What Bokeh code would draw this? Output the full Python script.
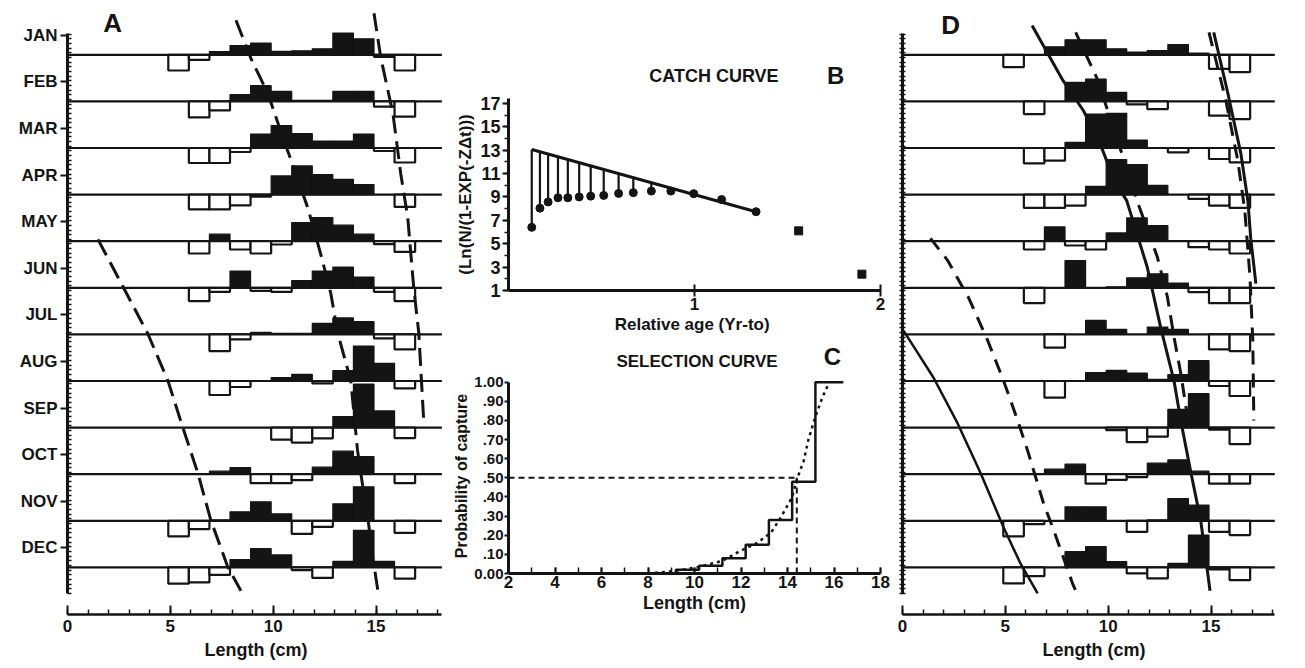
import numpy as np
from bokeh.plotting import figure
from bokeh.layouts import row, column
from bokeh.models import FixedTicker, Range1d, Label
from bokeh.embed import file_html
from bokeh.resources import INLINE

FONT = "Liberation Sans"
INK = "#141414"

# ---------------- data ----------------
MONTHS = ["JAN", "FEB", "MAR", "APR", "MAY", "JUN", "JUL", "AUG", "SEP", "OCT", "NOV", "DEC"]
LENGTH_MID = [5.4, 6.4, 7.4, 8.4, 9.4, 10.4, 11.4, 12.4, 13.4, 14.4, 15.4, 16.4]

# restructured frequencies (positive = peak, negative = trough), panel A
A_SCORES = [
    [-15.7, -5.0, 3.3, 9.3, 11.7, 3.5, 4.0, 6.0, 21.7, 16.0, -2.0, -15.7],
    [0.0, -16.0, -9.0, 6.7, 15.7, 10.0, 1.0, 1.0, 10.0, 10.0, -5.3, -15.3],
    [0.0, -15.0, -15.0, -4.0, 14.0, 22.5, 14.3, 7.0, 7.0, 14.0, -3.0, -14.5],
    [0.0, -14.7, -14.7, -10.7, -2.0, 18.7, 28.7, 20.0, 15.3, 10.0, 0.0, -12.3],
    [0.0, -12.3, 7.0, -8.3, -12.3, -3.3, 18.7, 23.7, 16.0, 7.0, -3.0, -10.7],
    [0.0, -13.3, -4.0, 16.7, -3.0, -4.0, 7.3, 16.7, 20.7, 10.7, -4.0, -13.3],
    [0.0, 0.0, -16.7, -5.0, 2.0, 1.0, 1.0, 11.0, 16.5, 12.7, -4.0, -15.0],
    [0.0, 0.0, -14.0, -6.0, 0.0, 3.3, 6.7, -2.3, 10.3, 35.0, 17.7, -7.3],
    [0.0, 0.0, 0.0, 0.0, 0.0, -12.0, -15.0, -10.7, 11.0, 43.5, 16.7, -10.5],
    [0.0, 0.0, 3.0, 6.5, -9.0, -9.0, -6.0, 7.0, 23.0, 17.5, 0.0, -9.0],
    [-15.5, -8.3, 1.0, 9.0, 19.0, 7.0, -13.0, -6.0, 17.0, 34.0, 0.0, -12.0],
    [-16.3, -15.0, -7.5, 7.8, 18.7, 12.5, -2.7, -10.5, 6.0, 37.0, 6.0, -11.3],
]

# panel D
D_SCORES = [
    [-12.3, 0.0, 8.0, 15.0, 15.0, 6.0, 2.7, 4.3, 10.3, 1.7, -14.0, -17.3],
    [0.0, -12.7, 0.0, 19.0, 22.3, 9.0, -3.0, -7.7, 0.0, 0.0, -14.3, -17.7],
    [0.0, -15.3, -12.7, 5.7, 34.0, 34.7, 8.0, 0.0, -4.3, 0.0, -11.0, -14.3],
    [0.0, -13.3, -13.3, -11.0, 8.3, 35.0, 30.0, 9.3, 0.0, -4.3, -11.0, -13.3],
    [0.0, -8.3, 14.3, -4.3, -8.3, 8.3, 23.3, 15.7, 0.0, -6.0, -8.3, -12.3],
    [0.0, -15.3, 0.0, 27.3, 0.0, 1.0, 10.0, 14.0, 4.7, -4.3, -15.3, -15.3],
    [0.0, 0.0, -13.3, 0.0, 14.0, 5.0, 0.0, 7.3, 5.0, 0.0, -15.0, -16.7],
    [0.0, 0.0, -16.7, 0.0, 8.5, 10.7, 8.0, 1.7, 6.5, 20.3, -5.0, -15.0],
    [0.0, 0.0, 0.0, 0.0, 0.0, -2.5, -14.5, -9.0, 18.3, 34.0, -2.0, -16.5],
    [0.0, 0.0, 5.0, 10.0, -9.5, -5.7, -3.0, 11.0, 14.3, 3.0, -9.5, -9.5],
    [-15.5, -3.3, 0.0, 14.0, 14.0, 0.0, -11.0, 1.0, 22.3, 15.7, -11.0, -14.3],
    [-16.0, -8.7, 0.0, 15.7, 20.7, 5.7, -6.0, -11.0, 4.0, 32.3, -2.0, -12.7],
]

# growth curves: length (cm) against time in months from the JAN baseline
A_CURVE1_LEN = [8.19, 8.92, 9.74, 10.52, 11.0, 11.68, 12.3, 12.8, 13.14, 13.77, 14.1, 14.36, 14.6, 14.84, 15.09]
A_CURVE1_T = [-0.74, 0.08, 0.83, 1.84, 2.42, 3.28, 4.26, 5.12, 5.98, 6.99, 8.49, 9.28, 9.93, 10.79, 11.5]
A_CURVE2_LEN = [14.9, 15.23, 15.82, 16.2, 16.54, 16.83, 17.08, 17.18, 17.33]
A_CURVE2_T = [-0.89, 0.06, 1.26, 2.55, 3.49, 4.99, 5.98, 6.78, 7.95]
A_CURVE3_LEN = [1.48, 3.9, 4.88, 5.6, 6.34, 6.97, 7.8, 8.43]
A_CURVE3_T = [3.96, 5.98, 6.99, 7.99, 8.98, 9.99, 11.0, 11.5]

D_SOLID1_LEN = [6.3, 7.8, 8.8, 9.6, 10.3, 10.9, 11.9, 12.55, 13.2, 13.55, 14.0, 14.5, 14.95]
D_SOLID1_T = [-0.63, 0.55, 1.2, 1.9, 2.7, 3.13, 4.56, 5.85, 7.0, 7.9, 8.92, 10.0, 11.5]
D_DASH1_LEN = [8.42, 9.47, 10.5, 11.5, 12.39, 12.88, 13.2, 13.53, 13.9]
D_DASH1_T = [-0.48, 0.52, 1.9, 3.25, 4.34, 5.2, 6.06, 6.84, 7.9]
D_SOLID2_LEN = [15.13, 15.82, 16.45, 16.79, 16.93, 17.18]
D_SOLID2_T = [-0.48, 0.83, 2.12, 3.13, 3.94, 4.91]
D_DASH2_LEN = [14.9, 15.72, 16.3, 16.64, 16.89, 17.03, 17.08]
D_DASH2_T = [-0.48, 0.98, 2.27, 3.34, 4.74, 6.13, 7.85]
D_SOLID3_LEN = [0.05, 1.51, 2.68, 3.8, 4.91, 5.74, 6.57]
D_SOLID3_T = [5.92, 6.93, 7.91, 8.98, 10.14, 10.92, 11.56]
D_DASH3_LEN = [1.36, 2.19, 3.21, 4.14, 4.91, 5.6, 6.08, 6.86, 7.35, 8.27, 8.52]
D_DASH3_T = [3.94, 4.41, 5.21, 6.13, 6.99, 7.85, 8.49, 9.63, 10.2, 11.35, 11.6]

# catch curve (panel B)
CATCH_AGE = [0.125, 0.169, 0.213, 0.266, 0.319, 0.380, 0.442, 0.512, 0.592, 0.671, 0.768, 0.873, 0.996, 1.146, 1.331]
CATCH_LNN = [6.4, 8.04, 8.57, 8.93, 8.93, 9.0, 9.07, 9.13, 9.3, 9.37, 9.5, 9.5, 9.28, 8.78, 7.74]
CATCH_TOP = [13.06, 12.86, 12.67, 12.43, 12.2, 11.93, 11.66, 11.35, 11.0, 10.65, 10.2, 9.8, 9.3, 8.6, 7.74]
CATCH_LINE_AGE = [0.125, 1.331]
CATCH_LINE_VAL = [13.06, 7.74]
CATCH_EXTRA_AGE = [1.56, 1.90]
CATCH_EXTRA_LNN = [6.1, 2.4]

# selection curve (panel C)
SEL_EDGE = [2.0, 9.2, 10.2, 11.2, 12.2, 13.2, 14.2, 15.2, 16.4]
SEL_PROB = [0.0, 0.02, 0.04, 0.08, 0.15, 0.28, 0.48, 1.0, 1.0]
LOGIT_LEN = [8.0, 9.2, 10.2, 11.2, 12.0, 12.7, 13.3, 13.7, 14.2, 14.4, 14.7, 14.9, 15.2, 15.5, 15.8]
LOGIT_PROB = [0.0, 0.014, 0.035, 0.066, 0.12, 0.16, 0.215, 0.29, 0.40, 0.49, 0.59, 0.70, 0.82, 0.92, 1.0]
L50 = 14.4
P50 = 0.5
PROB_TICKS = [0.0, 0.1, 0.2, 0.3, 0.4, 0.5, 0.6, 0.7, 0.8, 0.9, 1.0]
PROB_LABELS = ["0.00", ".10", ".20", ".30", ".40", ".50", ".60", ".70", ".80", ".90", "1.00"]

# ---------------- layout constants ----------------
ROW_PX = 46.6
LABEL_OFF = 0.42
BAR_SCALE = 1.0 / ROW_PX
FRAME_TOP_PX = 8.0
FRAME_BOT_PX = 614.0
JAN_BASE_PX = 54.3
Y_TOP = (JAN_BASE_PX - FRAME_TOP_PX) / ROW_PX - LABEL_OFF
Y_BOT = -(FRAME_BOT_PX - JAN_BASE_PX) / ROW_PX - LABEL_OFF
FIG_H = 666
MID_W = 440


def base_y(i):
    return -i - LABEL_OFF


def style_axis(ax, size="17px"):
    ax.major_label_text_font = FONT
    ax.major_label_text_font_style = "bold"
    ax.major_label_text_font_size = size
    ax.major_label_text_color = INK
    ax.axis_label_text_font = FONT
    ax.axis_label_text_font_style = "bold"
    ax.axis_label_text_color = INK
    ax.axis_label_text_font_size = "18px"
    ax.axis_line_color = INK
    ax.major_tick_line_color = INK
    ax.minor_tick_line_color = INK
    ax.major_tick_line_width = 2
    ax.minor_tick_line_width = 1.5


def base_fig(**kw):
    p = figure(output_backend="svg", toolbar_location=None, **kw)
    p.xgrid.visible = False
    p.ygrid.visible = False
    p.outline_line_color = None
    p.background_fill_color = "white"
    p.border_fill_color = "white"
    return p


def text_label(x, y, text, size, angle=0.0):
    return Label(x=x, y=y, text=text, text_font=FONT, text_font_style="bold",
                 text_font_size=size, text_color=INK, text_align="center",
                 text_baseline="middle", angle=angle)


def header(height, items):
    h = base_fig(width=MID_W, height=height, x_range=Range1d(0, MID_W), y_range=Range1d(0, height),
                 x_axis_type=None, y_axis_type=None,
                 min_border_left=0, min_border_right=0, min_border_top=0, min_border_bottom=0)
    for x, y, t, s in items:
        h.add_layout(text_label(x, y, t, s))
    return h


def month_panel(scores, curves, letter, letter_x, letter_y, width, left, right,
                base_end, axis_end, month_labels):
    frame_w = width - left - right
    xmax = frame_w / 20.57
    p = base_fig(width=width, height=FIG_H, x_range=Range1d(0, xmax),
                 y_range=Range1d(Y_BOT, Y_TOP),
                 min_border_left=left, min_border_right=right,
                 min_border_top=int(FRAME_TOP_PX), min_border_bottom=int(FIG_H - FRAME_BOT_PX))
    ys = [base_y(i) for i in range(len(MONTHS))]
    p.segment(x0=[0] * len(ys), x1=[base_end] * len(ys), y0=ys, y1=ys,
              line_color=INK, line_width=2.2)
    pl, pr, pb, pt = [], [], [], []
    nl, nr, nb, nt = [], [], [], []
    for i, vals in enumerate(scores):
        b = base_y(i)
        for m, v in zip(LENGTH_MID, vals):
            if v > 0:
                pl.append(m - 0.5); pr.append(m + 0.5); pb.append(b); pt.append(b + v * BAR_SCALE)
            elif v < 0:
                nl.append(m - 0.5); nr.append(m + 0.5); nt.append(b); nb.append(b + v * BAR_SCALE)
    p.quad(left=nl, right=nr, bottom=nb, top=nt, fill_color="white",
           line_color=INK, line_width=2.2)
    p.quad(left=pl, right=pr, bottom=pb, top=pt, fill_color=INK,
           line_color=INK, line_width=1.2)
    for lens, ts, dash, lw in curves:
        p.line(lens, [-t - LABEL_OFF for t in ts], line_color=INK,
               line_width=lw, line_dash=dash)
    xax = p.xaxis[0]
    style_axis(xax)
    xax.ticker = FixedTicker(ticks=[0, 5, 10, 15], minor_ticks=list(range(0, 19)))
    xax.bounds = (0, axis_end)
    xax.major_tick_in = 9
    xax.major_tick_out = 0
    xax.minor_tick_in = 5
    xax.minor_tick_out = 0
    xax.axis_line_width = 2.5
    xax.axis_label = "Length (cm)"
    xax.major_label_standoff = 5
    xax.axis_label_standoff = 5
    yax = p.yaxis[0]
    style_axis(yax, "17px")
    minor = [round(v, 3) for v in np.arange(-11.98, 0.05, 0.1)]
    if month_labels:
        yax.ticker = FixedTicker(ticks=[-i for i in range(12)], minor_ticks=minor)
        yax.major_label_overrides = {-i: MONTHS[i] for i in range(12)}
        yax.major_tick_out = 7
        yax.major_tick_in = 0
        yax.minor_tick_in = 4
        yax.minor_tick_out = 0
    else:
        yax.ticker = FixedTicker(ticks=[], minor_ticks=minor)
        yax.minor_tick_in = 3
        yax.minor_tick_out = 3
    yax.major_label_standoff = 3
    yax.bounds = (-11.98, 0.04)
    yax.axis_line_width = 3
    p.add_layout(text_label(letter_x, letter_y, letter, "26px"))
    return p


DASH = "18 8"
pA = month_panel(
    A_SCORES,
    [(A_CURVE1_LEN, A_CURVE1_T, DASH, 3), (A_CURVE2_LEN, A_CURVE2_T, DASH, 3),
     (A_CURVE3_LEN, A_CURVE3_T, DASH, 3)],
    "A", 2.19, 0.27, width=450, left=67, right=6, base_end=18.2, axis_end=18.2,
    month_labels=True)

pD = month_panel(
    D_SCORES,
    [(D_SOLID1_LEN, D_SOLID1_T, "solid", 3), (D_DASH1_LEN, D_DASH1_T, "14 9", 3),
     (D_SOLID2_LEN, D_SOLID2_T, "solid", 3), (D_DASH2_LEN, D_DASH2_T, "14 9", 3),
     (D_SOLID3_LEN, D_SOLID3_T, "solid", 2.5), (D_DASH3_LEN, D_DASH3_T, "14 9", 3)],
    "D", 2.34, 0.23, width=407, left=12, right=12, base_end=18.1, axis_end=18.1,
    month_labels=False)

# ---------------- panel B: catch curve ----------------
HB_H = 90
hB = header(HB_H, [(243, 15, "CATCH CURVE", "18px"), (387, 15, "B", "24px")])
pB = base_fig(width=MID_W, height=248, x_range=Range1d(0, 2.0), y_range=Range1d(1, 17.42),
              min_border_left=53, min_border_right=9, min_border_top=8, min_border_bottom=48)
pB.segment(x0=CATCH_AGE, x1=CATCH_AGE, y0=CATCH_TOP, y1=CATCH_LNN, line_color=INK, line_width=2.2)
pB.line(CATCH_LINE_AGE, CATCH_LINE_VAL, line_color=INK, line_width=3)
pB.scatter(CATCH_AGE, CATCH_LNN, size=8, color=INK)
pB.scatter(CATCH_EXTRA_AGE, CATCH_EXTRA_LNN, size=8, color=INK, marker="square")
bx = pB.xaxis[0]
style_axis(bx)
bx.ticker = FixedTicker(ticks=[1, 2])
bx.bounds = (0, 2.0)
bx.major_tick_in = 6
bx.major_tick_out = 6
bx.axis_line_width = 3
bx.axis_label = "Relative age  (Yr-to)"
bx.axis_label_text_font_size = "17px"
bx.major_label_standoff = 1
bx.axis_label_standoff = 2
by = pB.yaxis[0]
style_axis(by, "18px")
by.ticker = FixedTicker(ticks=[1, 3, 5, 7, 9, 11, 13, 15, 17], minor_ticks=list(range(1, 18)))
by.major_tick_out = 6
by.major_tick_in = 0
by.minor_tick_out = 4
by.minor_tick_in = 0
by.axis_line_width = 3
by.major_label_standoff = 2
by.axis_label = "(Ln(N/(1-EXP(-Z\u0394t)))"
by.axis_label_text_font_size = "17px"
by.axis_label_standoff = 2

# ---------------- panel C: selection curve ----------------
HC_H = 34
hC = header(HC_H, [(223, 11, "SELECTION CURVE", "17px"), (383, 16, "C", "24px")])
PC_H = FIG_H - HB_H - 248 - HC_H
pC = base_fig(width=MID_W, height=PC_H, x_range=Range1d(2, 18.0), y_range=Range1d(0, 1.019),
              min_border_left=55, min_border_right=10, min_border_top=6,
              min_border_bottom=PC_H - 6 - 195)
pC.segment(x0=[SEL_EDGE[0]], x1=[L50], y0=[P50], y1=[P50], line_color=INK, line_width=2, line_dash="6 4")
pC.segment(x0=[L50], x1=[L50], y0=[0], y1=[P50], line_color=INK, line_width=2, line_dash="6 4")
pC.step(SEL_EDGE, SEL_PROB, mode="after", line_color=INK, line_width=2.5)
pC.line(LOGIT_LEN, LOGIT_PROB, line_color=INK, line_width=2.5, line_dash="3 4")
cx = pC.xaxis[0]
style_axis(cx)
cx.ticker = FixedTicker(ticks=[2, 4, 6, 8, 10, 12, 14, 16, 18], minor_ticks=list(range(2, 19)))
cx.bounds = (2, 18)
cx.major_tick_in = 6
cx.major_tick_out = 0
cx.minor_tick_in = 6
cx.minor_tick_out = 0
cx.axis_line_width = 3
cx.axis_label = "Length (cm)"
cx.major_label_standoff = 2
cx.axis_label_standoff = 2
cy = pC.yaxis[0]
style_axis(cy, "15px")
cy.ticker = FixedTicker(ticks=PROB_TICKS)
cy.major_label_overrides = dict(zip(PROB_TICKS, PROB_LABELS))
cy.bounds = (0, 1.0)
cy.major_tick_out = 4
cy.major_tick_in = 0
cy.axis_line_width = 3
cy.major_label_standoff = 1
cy.axis_label = "Probability of capture"
cy.axis_label_text_font_size = "16px"
cy.axis_label_standoff = 1

layout = row(pA, column(hB, pB, hC, pC), pD)
open("out.html", "w").write(file_html(layout, INLINE))
